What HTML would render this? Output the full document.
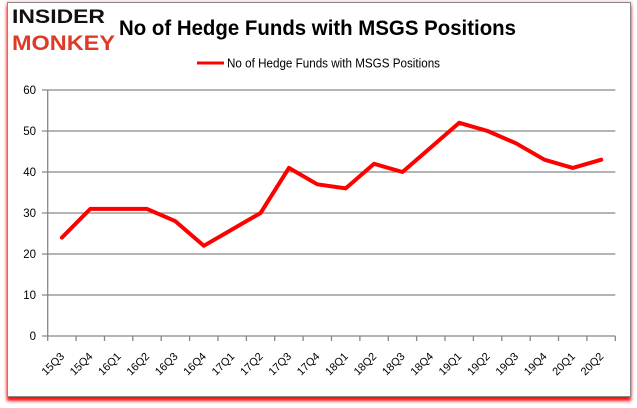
<!DOCTYPE html>
<html><head><meta charset="utf-8"><style>
html,body{margin:0;padding:0;background:#fff;}
body{width:637px;height:408px;position:relative;overflow:hidden;}
.frame{position:absolute;left:7px;top:2px;width:622px;height:393px;border:1px solid #888;background:#fff;box-shadow:0 4px 3px #ff1010,0 0 4px rgba(255,0,0,0.35);}
svg{position:absolute;left:0;top:0;}
</style></head><body>
<div class="frame"></div>
<svg width="637" height="408" viewBox="0 0 637 408" xmlns="http://www.w3.org/2000/svg" font-family="'Liberation Sans', sans-serif">
<text x="12" y="23" font-size="19.5" font-weight="bold" fill="#111" textLength="93" lengthAdjust="spacingAndGlyphs">INSIDER</text>
<text x="12" y="50" font-size="21" font-weight="bold" fill="#dd3b28" textLength="103" lengthAdjust="spacingAndGlyphs">MONKEY</text>
<text x="119" y="35" font-size="21" font-weight="bold" fill="#000" textLength="397" lengthAdjust="spacingAndGlyphs">No of Hedge Funds with MSGS Positions</text>
<line x1="197" y1="63" x2="224" y2="63" stroke="#ff0000" stroke-width="3"/>
<text x="227" y="67.5" font-size="12.5" fill="#000" textLength="213" lengthAdjust="spacingAndGlyphs">No of Hedge Funds with MSGS Positions</text>
<g stroke="#868686" stroke-width="1.3">
<line x1="42" y1="90" x2="615.3" y2="90"/>
<line x1="42" y1="131" x2="615.3" y2="131"/>
<line x1="42" y1="172" x2="615.3" y2="172"/>
<line x1="42" y1="213" x2="615.3" y2="213"/>
<line x1="42" y1="254" x2="615.3" y2="254"/>
<line x1="42" y1="295" x2="615.3" y2="295"/>
<line x1="42" y1="336" x2="615.3" y2="336"/>
<line x1="47.7" y1="90" x2="47.7" y2="341"/>
<line x1="76.1" y1="336" x2="76.1" y2="341"/>
<line x1="104.5" y1="336" x2="104.5" y2="341"/>
<line x1="132.8" y1="336" x2="132.8" y2="341"/>
<line x1="161.2" y1="336" x2="161.2" y2="341"/>
<line x1="189.6" y1="336" x2="189.6" y2="341"/>
<line x1="218.0" y1="336" x2="218.0" y2="341"/>
<line x1="246.4" y1="336" x2="246.4" y2="341"/>
<line x1="274.7" y1="336" x2="274.7" y2="341"/>
<line x1="303.1" y1="336" x2="303.1" y2="341"/>
<line x1="331.5" y1="336" x2="331.5" y2="341"/>
<line x1="359.9" y1="336" x2="359.9" y2="341"/>
<line x1="388.3" y1="336" x2="388.3" y2="341"/>
<line x1="416.6" y1="336" x2="416.6" y2="341"/>
<line x1="445.0" y1="336" x2="445.0" y2="341"/>
<line x1="473.4" y1="336" x2="473.4" y2="341"/>
<line x1="501.8" y1="336" x2="501.8" y2="341"/>
<line x1="530.2" y1="336" x2="530.2" y2="341"/>
<line x1="558.5" y1="336" x2="558.5" y2="341"/>
<line x1="586.9" y1="336" x2="586.9" y2="341"/>
<line x1="615.3" y1="336" x2="615.3" y2="341"/>
</g>
<g font-size="11.5" fill="#000" text-anchor="end">
<text x="36" y="94">60</text>
<text x="36" y="135">50</text>
<text x="36" y="176">40</text>
<text x="36" y="217">30</text>
<text x="36" y="258">20</text>
<text x="36" y="299">10</text>
<text x="36" y="340">0</text>
</g>
<g font-size="11" fill="#000" text-anchor="end">
<text transform="translate(65,357) rotate(-45)">15Q3</text>
<text transform="translate(93.3,357) rotate(-45)">15Q4</text>
<text transform="translate(121.6,357) rotate(-45)">16Q1</text>
<text transform="translate(150,357) rotate(-45)">16Q2</text>
<text transform="translate(178.4,357) rotate(-45)">16Q3</text>
<text transform="translate(206.8,357) rotate(-45)">16Q4</text>
<text transform="translate(235.2,357) rotate(-45)">17Q1</text>
<text transform="translate(263.6,357) rotate(-45)">17Q2</text>
<text transform="translate(291.9,357) rotate(-45)">17Q3</text>
<text transform="translate(320.3,357) rotate(-45)">17Q4</text>
<text transform="translate(348.7,357) rotate(-45)">18Q1</text>
<text transform="translate(377.1,357) rotate(-45)">18Q2</text>
<text transform="translate(405.5,357) rotate(-45)">18Q3</text>
<text transform="translate(433.9,357) rotate(-45)">18Q4</text>
<text transform="translate(462.2,357) rotate(-45)">19Q1</text>
<text transform="translate(490.6,357) rotate(-45)">19Q2</text>
<text transform="translate(519,357) rotate(-45)">19Q3</text>
<text transform="translate(547.4,357) rotate(-45)">19Q4</text>
<text transform="translate(575.8,357) rotate(-45)">20Q1</text>
<text transform="translate(604.2,357) rotate(-45)">20Q2</text>
</g>
<polyline fill="none" stroke="#ff0000" stroke-width="4" stroke-linejoin="round" stroke-linecap="round"
points="61.9,237.6 90.3,208.9 118.6,208.9 147.0,208.9 175.4,221.2 203.8,245.8 232.2,229.4 260.6,213 288.9,167.9 317.3,184.3 345.7,188.4 374.1,163.8 402.5,172 430.9,147.4 459.2,122.8 487.6,131 516.0,143.3 544.4,159.7 572.8,167.9 601.2,159.7"/>
</svg>
</body></html>
